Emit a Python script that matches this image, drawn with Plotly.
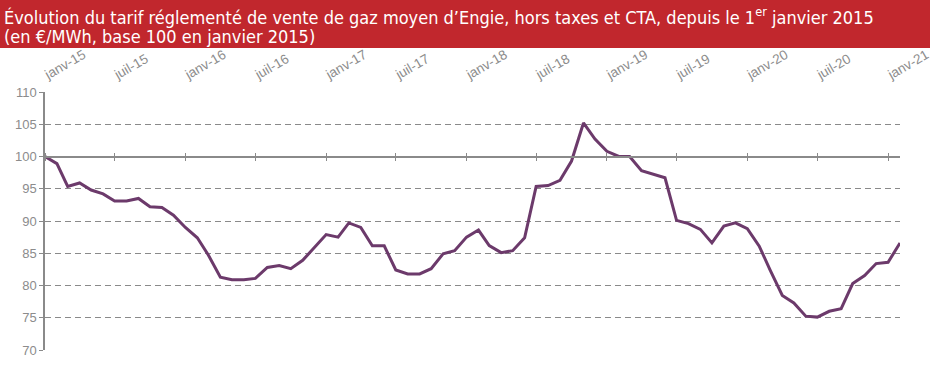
import plotly.graph_objects as go
import pandas as pd

# Monthly index values (base 100 = January 2015), Jan 2015 -> Feb 2021
values = [
    100.0, 98.9, 95.35, 95.9, 94.8, 94.2, 93.1, 93.1, 93.5, 92.2, 92.1, 90.9,
    89.0, 87.4, 84.7, 81.3, 80.9, 80.9, 81.1, 82.8, 83.1, 82.6, 83.9, 85.9,
    87.9, 87.5, 89.7, 89.0, 86.15, 86.15, 82.4, 81.8, 81.8, 82.6, 84.9, 85.4,
    87.5, 88.6, 86.2, 85.1, 85.4, 87.4, 95.35, 95.5, 96.3, 99.3, 105.2, 102.7,
    100.8, 100.0, 100.0, 97.8, 97.2, 96.7, 90.1, 89.6, 88.7, 86.6, 89.2, 89.7,
    88.8, 86.1, 82.3, 78.45, 77.3, 75.25, 75.1, 76.0, 76.4, 80.3, 81.55, 83.4,
    83.6, 86.6,
]
dates = pd.date_range("2015-01-01", periods=len(values), freq="MS")

tick_dates = pd.date_range("2015-01-01", "2021-01-01", freq="6MS")
tick_labels = ["janv-15", "juil-15", "janv-16", "juil-16", "janv-17", "juil-17",
               "janv-18", "juil-18", "janv-19", "juil-19", "janv-20", "juil-20",
               "janv-21"]
y_ticks = [70, 75, 80, 85, 90, 95, 100, 105, 110]

title_line1 = "Évolution du tarif réglementé de vente de gaz moyen d’Engie, hors taxes et CTA, depuis le 1<sup>er</sup> janvier 2015"
title_line2 = "(en €/MWh, base 100 en janvier 2015)"

x_range = ["2015-01-01", "2021-02-01"]
grey = "#8a8a8a"
tick_font = dict(family="Liberation Sans, Arial, sans-serif", size=13.5, color="#8c8c8c")
title_font_family = "Liberation Sans Narrow, DejaVu Sans Condensed, Roboto, sans-serif"

fig = go.Figure()
fig.add_trace(go.Scatter(
    x=dates, y=values, mode="lines",
    line=dict(color="#6c3a6b", width=3),
    hoverinfo="x+y", showlegend=False,
))

W, H = 936, 367
ml, mr, mt, mb = 45, 36, 92, 17
pw, ph = W - ml - mr, H - mt - mb
pos100 = (100 - 70) / (110 - 70)

fig.update_layout(
    width=W, height=H,
    margin=dict(l=ml, r=mr, t=mt, b=mb, autoexpand=False),
    paper_bgcolor="white", plot_bgcolor="white",
    xaxis=dict(
        type="date", range=x_range, side="top", automargin=False,
        tickvals=tick_dates, ticktext=tick_labels, tickangle=-30,
        tickfont=tick_font, showgrid=False, showline=False, ticks="",
        zeroline=False, ticklabelstandoff=8,
    ),
    xaxis2=dict(
        type="date", range=x_range, overlaying="x", anchor="free",
        position=pos100, side="bottom", tickvals=tick_dates,
        showticklabels=False, ticks="outside", ticklen=4, tickcolor=grey,
        tickwidth=1.3, showline=True, linecolor=grey, linewidth=1.5,
        showgrid=False, zeroline=False, automargin=False,
    ),
    xaxis3=dict(
        type="date", range=x_range, overlaying="x", anchor="free",
        position=pos100, side="top", tickvals=tick_dates,
        showticklabels=False, ticks="outside", ticklen=4, tickcolor=grey,
        tickwidth=1.3, showline=False, showgrid=False, zeroline=False,
        automargin=False,
    ),
    yaxis=dict(
        range=[70, 110], tickvals=y_ticks, ticktext=[str(v) for v in y_ticks],
        tickfont=dict(family="Liberation Sans, Arial, sans-serif", size=13, color="#8c8c8c"),
        showgrid=True, gridcolor=grey, gridwidth=1.2, griddash="6px,4px",
        showline=True, linecolor=grey, linewidth=1.5, automargin=False,
        ticks="outside", ticklen=4, tickcolor=grey, tickwidth=1.3,
        zeroline=False,
    ),
    shapes=[dict(type="rect", xref="paper", yref="paper",
                 x0=-ml / pw, x1=(930 - ml) / pw,
                 y0=1 + (mt - 48) / ph, y1=1 + mt / ph,
                 fillcolor="#c1272d", line=dict(width=0), layer="below")],
    annotations=[
        dict(text=title_line1, xref="paper", yref="paper",
             x=(2 - ml) / pw, y=1 + (mt - 2) / ph,
             xanchor="left", yanchor="top", align="left", showarrow=False,
             font=dict(family=title_font_family, size=18, color="white")),
        dict(text=title_line2, xref="paper", yref="paper",
             x=(2 - ml) / pw, y=1 + (mt - 24) / ph,
             xanchor="left", yanchor="top", align="left", showarrow=False,
             font=dict(family=title_font_family, size=18, color="white")),
    ],
)

# invisible anchor traces so the overlay axes (line at 100) render
fig.add_trace(go.Scatter(x=[dates[0]], y=[100], xaxis="x2", mode="markers",
                         marker=dict(opacity=0), hoverinfo="skip", showlegend=False))
fig.add_trace(go.Scatter(x=[dates[0]], y=[100], xaxis="x3", mode="markers",
                         marker=dict(opacity=0), hoverinfo="skip", showlegend=False))

fig.write_html("out.html", config={"displayModeBar": False},
               post_script="document.body.style.margin='0';")
